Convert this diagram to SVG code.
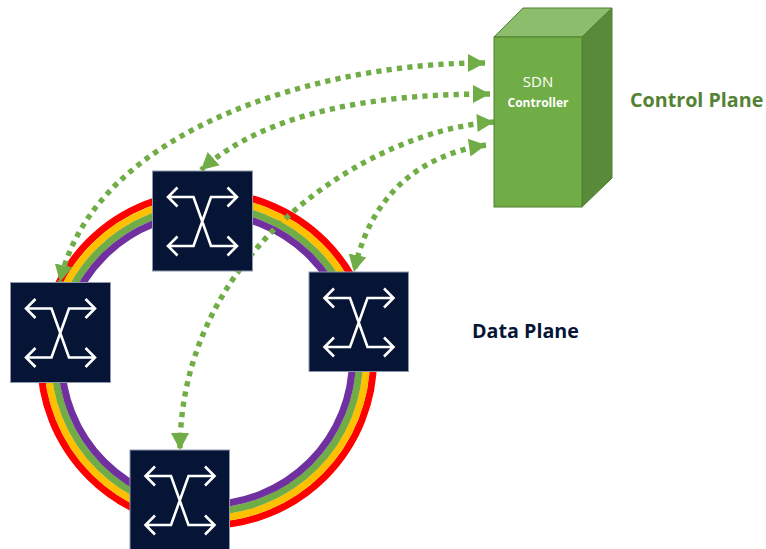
<svg xmlns="http://www.w3.org/2000/svg" width="766" height="549" viewBox="0 0 766 549">
<style>
.ring{fill:none;stroke-width:7.1}
.sw{fill:#061536;stroke:#8d97ad;stroke-width:1}
.ic{fill:none;stroke:#fff;stroke-width:2.6}
.link{fill:none;stroke:#70ad47;stroke-width:5.4;stroke-dasharray:5.2 5.2;marker-start:url(#hs);marker-end:url(#he)}
text{font-family:"Open Sans","Liberation Sans",sans-serif}
.b{font-weight:700}
</style>
<defs>
<marker id="he" markerUnits="userSpaceOnUse" markerWidth="18" markerHeight="20" refX="17" refY="10" orient="auto"><path d="M0 1L17 10L0 19Z" fill="#70ad47"/></marker>
<marker id="hs" markerUnits="userSpaceOnUse" markerWidth="18" markerHeight="20" refX="0" refY="10" orient="auto"><path d="M17 1L0 10L17 19Z" fill="#70ad47"/></marker>
<g id="icon"><path class="ic" d="M15.500 26H41L58.500 75H84.500M15.500 75H41L58.500 26H84.500M25 16.500L15.500 26L25 35.500M75 16.500L84.500 26L75 35.500M25 65.500L15.500 75L25 84.500M75 65.500L84.500 75L75 84.500"/></g>
</defs>
<g id="ring">
<circle class="ring" cx="207" cy="359" r="166.500" stroke="#ff0000"/>
<circle class="ring" cx="207" cy="359" r="159.500" stroke="#ffc000"/>
<circle class="ring" cx="207" cy="359" r="152.500" stroke="#70ad47"/>
<circle class="ring" cx="207" cy="359" r="145.500" stroke="#7030a0"/>
</g>
<g id="connectors">
<path class="link" d="M485 63C330 62 95 125 60 282"/>
<path class="link" d="M490 94C380 94 268 110 201 170"/>
<path class="link" d="M494 122C370 130 180 250 180 450"/>
<path class="link" d="M486 145C420 155 370 195 354 272"/>
</g>
<g id="switch-top"><rect class="sw" x="152.500" y="171" width="100" height="100"/><use href="#icon" x="152.500" y="171"/></g>
<g id="switch-left"><rect class="sw" x="10.500" y="282.500" width="100" height="100"/><use href="#icon" x="10.500" y="282.500"/></g>
<g id="switch-right"><rect class="sw" x="309" y="272" width="99.500" height="99.500"/><use href="#icon" x="309" y="272"/></g>
<g id="switch-bottom"><rect class="sw" x="130" y="450" width="99.500" height="100"/><use href="#icon" x="130" y="450"/></g>
<g id="controller">
<path d="M494 37L523 8H612L582 37Z" fill="#8cbd6c" stroke="#507e32" stroke-width="1"/>
<path d="M582 37L612 8V178L582 207Z" fill="#598a39" stroke="#507e32" stroke-width="1"/>
<rect x="494" y="37" width="88" height="170" fill="#70ad47" stroke="#507e32" stroke-width="1"/>
<text x="538" y="87" text-anchor="middle" font-size="15" fill="#fff">SDN</text>
<text x="538" y="107" text-anchor="middle" font-size="12" fill="#fff" class="b">Controller</text>
</g>
<text x="630" y="107" font-size="19.700" class="b" fill="#548235">Control Plane</text>
<text x="472" y="338" font-size="19.700" class="b" fill="#061536">Data Plane</text>
</svg>
